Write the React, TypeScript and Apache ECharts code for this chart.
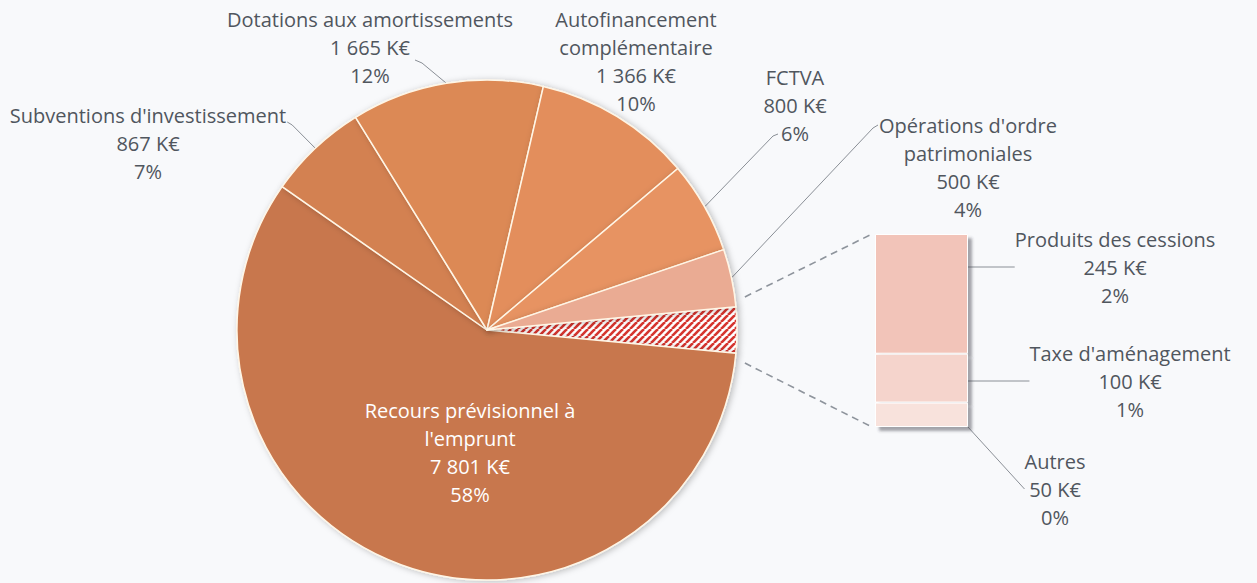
import React, { useEffect, useRef } from "react";
import * as echarts from "echarts";

const pieNames = [
  "Recours prévisionnel à\nl'emprunt",
  "Subventions d'investissement",
  "Dotations aux amortissements",
  "Autofinancement\ncomplémentaire",
  "FCTVA",
  "Opérations d'ordre\npatrimoniales",
];
const pieValues = [7801, 867, 1665, 1366, 800, 500];
const piePercents = [58, 7, 12, 10, 6, 4];
const pieColors = ["#c8774d", "#d38151", "#dc8955", "#e38e5c", "#e79362", "#eaab93"];

const detailNames = ["Produits des cessions", "Taxe d'aménagement", "Autres"];
const detailValues = [245, 100, 50];
const detailPercents = [2, 1, 0];
const detailColors = ["#f2c4b9", "#f5d4cc", "#f8e2dc"];

const pieLabelPos: [number, number][] = [
  [470, 452],
  [148, 143],
  [370, 47],
  [636, 61],
  [795, 105],
  [968, 167],
];
const barLabelPos: [number, number][] = [
  [1115, 267],
  [1130, 381],
  [1055, 489],
];

const fmt = (v: number) => String(v).replace(/\B(?=(\d{3})+(?!\d))/g, " ");

const CX = 487;
const CY = 330;
const R = 250;
const BAR_LEFT = 875;
const BAR_TOP = 234;
const BAR_W = 93;
const BAR_H = 193;
const FONT = "'Open Sans', Lato, sans-serif";
const FS = 20;
const TEXT = "#50565e";

function makeHatch(): HTMLCanvasElement {
  const s = 7;
  const c = document.createElement("canvas");
  c.width = s;
  c.height = s;
  const ctx = c.getContext("2d")!;
  ctx.fillStyle = "#ffffff";
  ctx.fillRect(0, 0, s, s);
  ctx.strokeStyle = "#d6352e";
  ctx.lineWidth = 2.6;
  for (const o of [-s, 0, s]) {
    ctx.beginPath();
    ctx.moveTo(o, s);
    ctx.lineTo(o + s, 0);
    ctx.stroke();
  }
  return c;
}

// leader-line attachment, relative to the placed label box
type Attach = (b: { l: number; r: number; t: number; cx: number }) => [number[], number[]];
const pieAttach: (Attach | null)[] = [
  null,
  (b) => [[b.r + 6, b.t + 24], [b.r + 1, b.t + 21]],
  (b) => [[b.cx + 52, b.t + 58], [b.cx + 45, b.t + 55]],
  null,
  (b) => [[b.cx - 22, b.t + 73], [b.cx - 17, b.t + 71]],
  (b) => [[b.l - 6, b.t + 17], [b.l - 1, b.t + 14]],
];

export default function App() {
  const ref = useRef<HTMLDivElement>(null);
  useEffect(() => {
    document.body.style.margin = "0";
    const chart = echarts.init(ref.current!, null, { renderer: "svg" });
    const groupSum = detailValues.reduce((a, b) => a + b, 0);
    const total = pieValues.reduce((a, b) => a + b, 0) + groupSum;
    const groupAngle = (360 * groupSum) / total;
    const startAngle = groupAngle / 2;

    const rad = (d: number) => (d * Math.PI) / 180;
    const p1x = CX + (R + 10) * Math.cos(rad(startAngle + 2));
    const p1y = CY - (R + 10) * Math.sin(rad(startAngle + 2));
    const p2x = CX + (R + 10) * Math.cos(rad(startAngle - groupAngle - 2));
    const p2y = CY - (R + 10) * Math.sin(rad(startAngle - groupAngle - 2));

    const pieData: any[] = [
      {
        name: "Autres recettes",
        value: groupSum,
        itemStyle: {
          color: { image: makeHatch(), repeat: "repeat" },
        },
        label: { show: false },
        labelLine: { show: false },
      },
      ...pieNames.map((n, i) => ({
        name: n,
        value: pieValues[i],
        pct: piePercents[i],
        itemStyle: { color: pieColors[i] },
        label: i === 0 ? { color: "#ffffff" } : undefined,
        labelLine: pieAttach[i] ? undefined : { show: false },
      })),
    ];

    const barSeries = detailNames.map((n, i) => ({
      name: n,
      type: "bar",
      stack: "detail",
      xAxisIndex: 0,
      yAxisIndex: 0,
      barWidth: "100%",
      z: 2 + i,
      data: [detailValues[i]],
      itemStyle: {
        color: detailColors[i],
        borderColor: "#ffffff",
        borderWidth: 1,
        shadowBlur: 3,
        shadowOffsetX: 4,
        shadowOffsetY: 4,
        shadowColor: "rgba(60,60,70,0.45)",
      },
      label: {
        show: true,
        position: "right",
        formatter: () => `${n}\n${fmt(detailValues[i])} K€\n${detailPercents[i]}%`,
        fontFamily: FONT,
        fontSize: FS,
        lineHeight: 28,
        color: TEXT,
        align: "center",
      },
      labelLine: { show: true, lineStyle: { color: "#8a8f96", width: 1 } },
      labelLayout: () => ({
        x: barLabelPos[i][0],
        y: barLabelPos[i][1],
        align: "center",
        verticalAlign: "middle",
      }),
    }));
    barSeries.reverse();

    chart.setOption({
      animation: false,
      backgroundColor: "#f8f9fb",
      grid: { left: BAR_LEFT, top: BAR_TOP, width: BAR_W, height: BAR_H },
      xAxis: { type: "category", data: ["détail"], show: false },
      yAxis: { type: "value", min: 0, max: groupSum, show: false },
      graphic: [
        {
          type: "line",
          shape: { x1: p1x, y1: p1y, x2: BAR_LEFT - 5, y2: BAR_TOP + 1 },
          style: { stroke: "#8e949c", lineWidth: 1.6, lineDash: [7, 5] },
        },
        {
          type: "line",
          shape: { x1: p2x, y1: p2y, x2: BAR_LEFT - 5, y2: BAR_TOP + BAR_H - 1 },
          style: { stroke: "#8e949c", lineWidth: 1.6, lineDash: [7, 5] },
        },
      ],
      series: [
        {
          type: "pie",
          center: [CX, CY],
          radius: R,
          startAngle,
          clockwise: true,
          avoidLabelOverlap: false,
          itemStyle: {
            borderColor: "#fff6e6",
            borderWidth: 1.5,
            shadowBlur: 6,
            shadowOffsetX: 2,
            shadowOffsetY: 1,
            shadowColor: "rgba(0,0,0,0.25)",
          },
          label: {
            show: true,
            position: "outside",
            fontFamily: FONT,
            fontSize: FS,
            lineHeight: 28,
            color: TEXT,
            align: "center",
            formatter: (p: any) => `${p.name}\n${fmt(p.value)} K€\n${p.data.pct}%`,
          },
          labelLine: { show: true, length: 10, length2: 10, lineStyle: { color: "#8a8f96", width: 1 } },
          labelLayout: (params: any) => {
            const idx = params.dataIndex - 1;
            if (idx < 0) return {};
            const [x, y] = pieLabelPos[idx];
            const out: any = { x, y, align: "center", verticalAlign: "middle" };
            const att = pieAttach[idx];
            const pts = params.labelLinePoints;
            if (att && pts && pts[0]) {
              const w = params.labelRect.width;
              const h = params.labelRect.height;
              const box = { l: x - w / 2, r: x + w / 2, t: y - h / 2, cx: x };
              const [bend, end] = att(box);
              out.labelLinePoints = [pts[0], bend, end];
            }
            return out;
          },
          data: pieData,
        },
        ...barSeries,
      ],
    });
    return () => chart.dispose();
  }, []);
  return <div ref={ref} style={{ width: 1257, height: 583 }} />;
}
